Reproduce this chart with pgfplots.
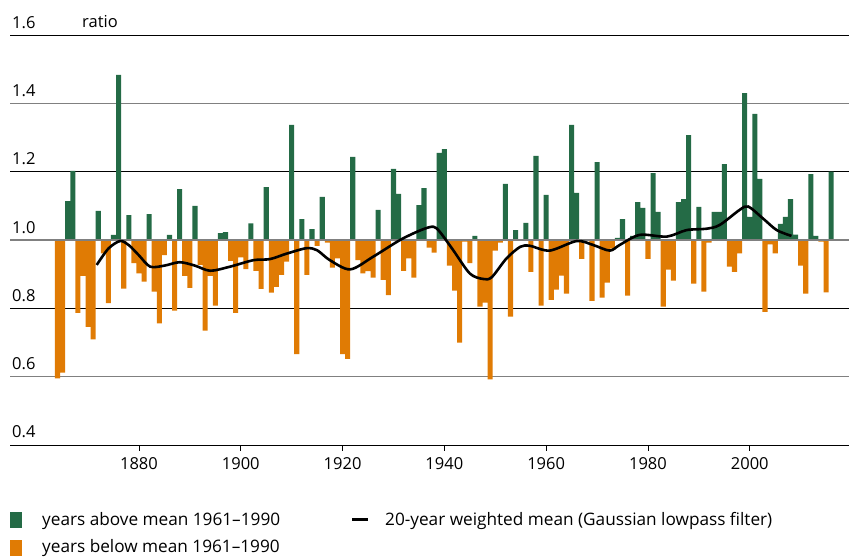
\documentclass[border=0pt]{standalone}
\usepackage{fontspec}
\setmainfont{Open Sans}
\usepackage{pgfplots}
\usepackage{pgfplotstable}
\pgfplotsset{compat=1.18}
\definecolor{cgreen}{RGB}{36,107,70}
\definecolor{corange}{RGB}{224,123,4}
\definecolor{cgrid}{RGB}{128,128,128}

\pgfplotstableread{
year r
1866 1.114
1867 1.202
1872 1.085
1875 1.015
1876 1.483
1878 1.073
1882 1.076
1886 1.015
1888 1.149
1891 1.100
1896 1.020
1897 1.023
1902 1.049
1905 1.155
1910 1.337
1912 1.061
1914 1.032
1916 1.126
1922 1.243
1927 1.088
1930 1.208
1931 1.135
1935 1.102
1936 1.152
1939 1.255
1940 1.266
1946 1.012
1952 1.164
1954 1.029
1956 1.050
1958 1.246
1960 1.132
1965 1.337
1966 1.138
1970 1.228
1974 1.006
1975 1.061
1977 1.012
1978 1.111
1979 1.094
1981 1.196
1982 1.082
1986 1.111
1987 1.120
1988 1.307
1990 1.097
1993 1.082
1994 1.082
1995 1.222
1999 1.430
2000 1.068
2001 1.369
2002 1.179
2006 1.047
2007 1.068
2008 1.120
2009 1.016
2012 1.193
2013 1.012
2016 1.200
}\above

\pgfplotstableread{
year r
1864 0.595
1865 0.612
1868 0.787
1869 0.895
1870 0.746
1871 0.709
1873 0.961
1874 0.815
1877 0.858
1879 0.932
1880 0.902
1881 0.878
1883 0.849
1884 0.756
1885 0.956
1887 0.793
1889 0.895
1890 0.860
1892 0.927
1893 0.735
1894 0.895
1895 0.808
1898 0.939
1899 0.787
1900 0.949
1901 0.915
1903 0.910
1904 0.857
1906 0.846
1907 0.863
1908 0.898
1909 0.937
1911 0.666
1913 0.898
1915 0.983
1917 0.992
1918 0.919
1919 0.946
1920 0.666
1921 0.652
1923 0.941
1924 0.902
1925 0.909
1926 0.890
1928 0.883
1929 0.839
1932 0.910
1933 0.946
1934 0.890
1937 0.978
1938 0.963
1941 0.925
1942 0.852
1943 0.700
1944 0.995
1945 0.932
1947 0.805
1948 0.817
1949 0.592
1950 0.969
1951 0.992
1953 0.776
1955 0.998
1957 0.907
1959 0.808
1961 0.825
1962 0.855
1963 0.896
1964 0.843
1967 0.945
1968 0.997
1969 0.822
1971 0.831
1972 0.875
1973 0.975
1976 0.837
1980 0.945
1983 0.805
1984 0.913
1985 0.881
1989 0.872
1991 0.849
1992 0.992
1996 0.922
1997 0.907
1998 0.961
2003 0.790
2004 0.987
2005 0.961
2010 0.925
2011 0.843
2014 0.995
2015 0.847
}\below

\pgfplotstableread{
year r
1871.7 0.927
1874.0 0.975
1876.3 0.997
1878.0 0.985
1880.0 0.955
1882.2 0.922
1885.0 0.925
1888.0 0.935
1891.0 0.925
1894.0 0.910
1897.9 0.922
1902.5 0.941
1905.7 0.944
1909.0 0.960
1912.9 0.976
1915.0 0.970
1917.5 0.941
1921.5 0.914
1926.0 0.951
1931.3 1.000
1935.4 1.029
1937.8 1.039
1939.1 1.024
1941.7 0.971
1945.0 0.902
1947.6 0.886
1949.3 0.891
1952.2 0.946
1954.9 0.980
1956.8 0.983
1960.7 0.969
1966.0 0.997
1969.3 0.985
1972.5 0.969
1974.5 0.986
1978.4 1.015
1983.7 1.010
1987.6 1.029
1991.5 1.033
1994.1 1.044
1998.0 1.088
1999.7 1.098
2002.6 1.063
2005.3 1.029
2008.2 1.012
}\curve

\begin{document}
\begin{tikzpicture}[font=\fontsize{16.5}{19}\selectfont]
\useasboundingbox (0,0) rectangle (849pt,557pt);
\begin{axis}[
  at={(10pt,112pt)}, anchor=south west,
  scale only axis, width=839pt, height=410pt,
  xmin=1854.66, xmax=2019.5, ymin=-0.6, ymax=0.6,
  axis line style={draw=none},
  ymajorgrids, major grid style={black, line width=0.9pt},
  ytick={-0.6,-0.2,0.2,0.6}, yticklabels={0.4,0.8,1.2,1.6},
  extra y ticks={-0.4,0,0.4}, extra y tick labels={0.6,1.0,1.4},
  extra y tick style={major grid style={cgrid, line width=1.6pt}},
  ytick style={draw=none},
  yticklabel style={anchor=base west, inner sep=0pt, xshift=2pt, yshift=7pt},
  xtick={1880,1900,...,2000},
  xtick pos=left, xtick align=outside, major tick length=6pt,
  xtick style={black, line width=0.8pt},
  xticklabel style={anchor=base, inner sep=0pt, yshift=-19pt},
  /pgf/number format/assume math mode=true,
  /pgf/number format/1000 sep={},
  clip=false,
]
\addplot[ybar, bar width=1, bar shift=0pt, fill=cgreen, draw=none, forget plot]
  table[x=year, y expr=\thisrow{r}-1] {\above};
\addplot[ybar, bar width=1, bar shift=0pt, fill=corange, draw=none, forget plot]
  table[x=year, y expr=\thisrow{r}-1] {\below};
\draw[cgrid, line width=1.6pt] (axis cs:1854.66,0) -- (axis cs:2019.5,0);
\addplot[black, line width=2.6pt, smooth, tension=0.5, forget plot]
  table[x=year, y expr=\thisrow{r}-1] {\curve};
\end{axis}
\node[anchor=base west, inner sep=0pt] at (82pt,529pt) {ratio};
\begin{scope}[font=\fontsize{17.2}{20}\selectfont]
\fill[cgreen] (10pt,29pt) rectangle (22pt,45pt);
\node[anchor=base west, inner sep=0pt] at (42pt,31pt) {years above mean 1961–1990};
\fill[corange] (10pt,1pt) rectangle (22pt,17pt);
\node[anchor=base west, inner sep=0pt] at (42pt,4pt) {years below mean 1961–1990};
\draw[black, line width=3pt] (352pt,37pt) -- (368pt,37pt);
\node[anchor=base west, inner sep=0pt] at (385pt,31pt) {20-year weighted mean (Gaussian lowpass filter)};
\end{scope}
\end{tikzpicture}
\end{document}
